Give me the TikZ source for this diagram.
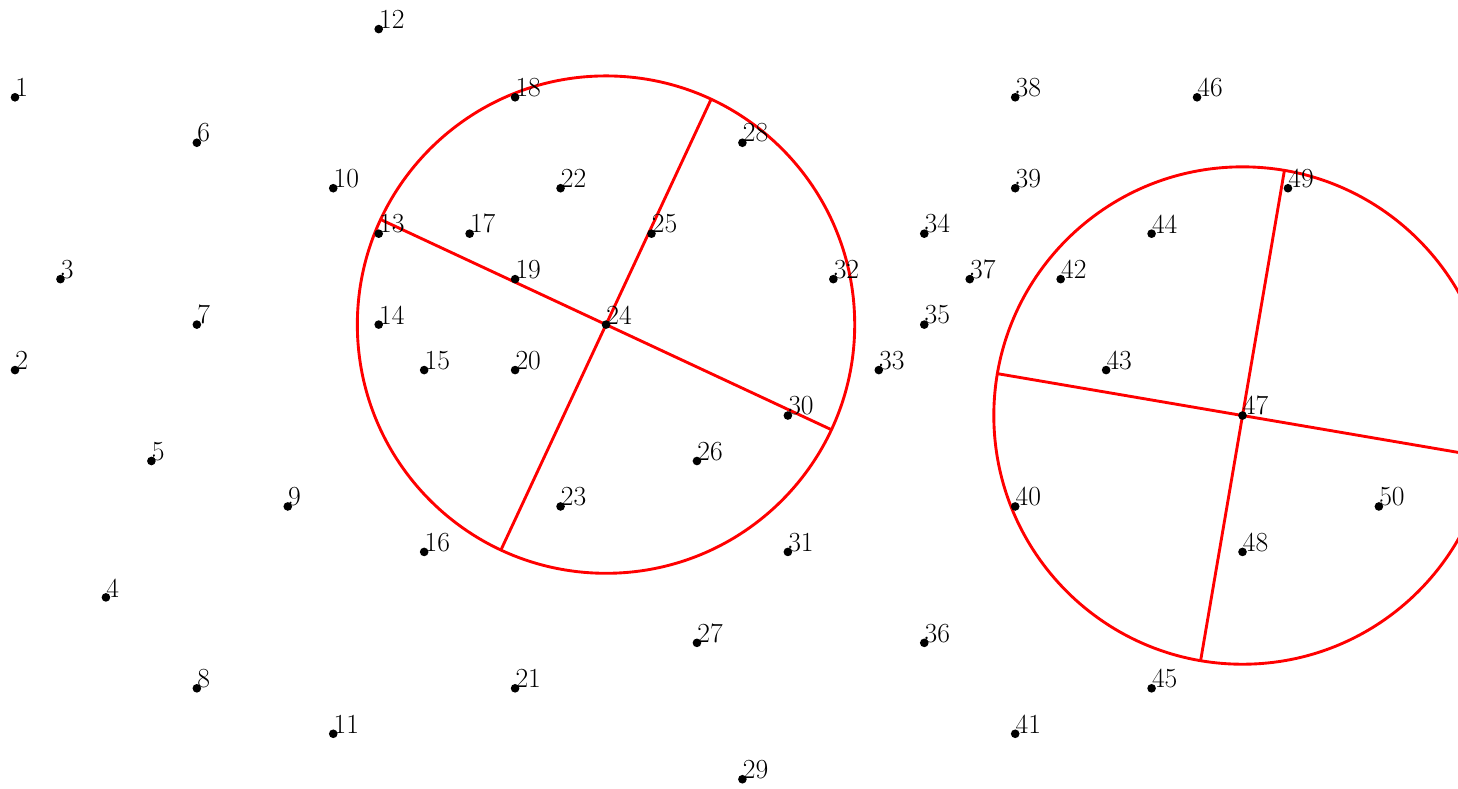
\documentclass[tikz,border=0pt]{standalone}
\usepackage{tikz}

\begin{document}
\begin{tikzpicture}[
    node font=\LARGE,
    lbl/.style={anchor=south west,inner sep=0pt,xshift=-1mm},
    vtx/.style={circle,fill,inner sep=0pt,minimum size=1.9mm,label={[lbl]0:#1}},
    ring/.style={red,line width=1.8pt}
]
\clip (-0.33,2.14) rectangle (31.74,-15.21);
\coordinate (c1) at (13,-5);
\coordinate (c2) at (27,-7);
\draw[ring] (c1) circle (5.47);
\draw[ring,shift={(c1)},rotate=-25] (-5.47,0) -- (5.47,0) (0,-5.47) -- (0,5.47);
\draw[ring] (c2) circle (5.47);
\draw[ring,shift={(c2)},rotate=-9.7] (-5.47,0) -- (5.47,0) (0,-5.47) -- (0,5.47);

\node[vtx=1]  (p1)  at (0,0) {};
\node[vtx=2]  (p2)  at (0,-6) {};
\node[vtx=3]  (p3)  at (1,-4) {};
\node[vtx=4]  (p4)  at (2,-11) {};
\node[vtx=5]  (p5)  at (3,-8) {};
\node[vtx=6]  (p6)  at (4,-1) {};
\node[vtx=7]  (p7)  at (4,-5) {};
\node[vtx=8]  (p8)  at (4,-13) {};
\node[vtx=9]  (p9)  at (6,-9) {};
\node[vtx=10] (p10) at (7,-2) {};
\node[vtx=11] (p11) at (7,-14) {};
\node[vtx=12] (p12) at (8,1.5) {};
\node[vtx=13] (p13) at (8,-3) {};
\node[vtx=14] (p14) at (8,-5) {};
\node[vtx=15] (p15) at (9,-6) {};
\node[vtx=16] (p16) at (9,-10) {};
\node[vtx=17] (p17) at (10,-3) {};
\node[vtx=18] (p18) at (11,0) {};
\node[vtx=19] (p19) at (11,-4) {};
\node[vtx=20] (p20) at (11,-6) {};
\node[vtx=21] (p21) at (11,-13) {};
\node[vtx=22] (p22) at (12,-2) {};
\node[vtx=23] (p23) at (12,-9) {};
\node[vtx=24] (p24) at (c1) {};
\node[vtx=25] (p25) at (14,-3) {};
\node[vtx=26] (p26) at (15,-8) {};
\node[vtx=27] (p27) at (15,-12) {};
\node[vtx=28] (p28) at (16,-1) {};
\node[vtx=29] (p29) at (16,-15) {};
\node[vtx=30] (p30) at (17,-7) {};
\node[vtx=31] (p31) at (17,-10) {};
\node[vtx=32] (p32) at (18,-4) {};
\node[vtx=33] (p33) at (19,-6) {};
\node[vtx=34] (p34) at (20,-3) {};
\node[vtx=35] (p35) at (20,-5) {};
\node[vtx=36] (p36) at (20,-12) {};
\node[vtx=37] (p37) at (21,-4) {};
\node[vtx=38] (p38) at (22,0) {};
\node[vtx=39] (p39) at (22,-2) {};
\node[vtx=40] (p40) at (22,-9) {};
\node[vtx=41] (p41) at (22,-14) {};
\node[vtx=42] (p42) at (23,-4) {};
\node[vtx=43] (p43) at (24,-6) {};
\node[vtx=44] (p44) at (25,-3) {};
\node[vtx=45] (p45) at (25,-13) {};
\node[vtx=46] (p46) at (26,0) {};
\node[vtx=47] (p47) at (c2) {};
\node[vtx=48] (p48) at (27,-10) {};
\node[vtx=49] (p49) at (28,-2) {};
\node[vtx=50] (p50) at (30,-9) {};
\end{tikzpicture}
\end{document}
